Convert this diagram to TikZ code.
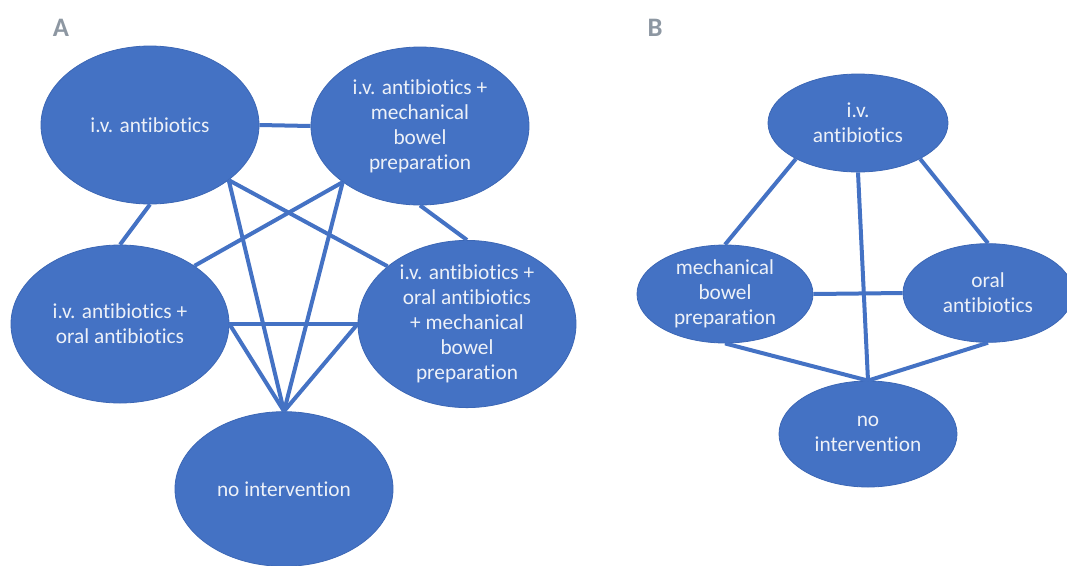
\documentclass[tikz,border=0pt]{standalone}
\usepackage{fontspec}
\setmainfont{Carlito}[Ligatures=NoCommon]
\usetikzlibrary{shapes.geometric}
\definecolor{nodeblue}{HTML}{4472C4}
\definecolor{rimblue}{HTML}{3C67B5}
\definecolor{txt}{HTML}{EDF1F8}
\definecolor{panelgray}{HTML}{8D97A2}
\begin{document}
\begin{tikzpicture}[x=0.75pt, y=-0.75pt,
  state/.style={ellipse, fill=nodeblue, draw=rimblue, line width=0.6pt, inner sep=0pt,
    text=txt, align=center, font=\fontsize{16}{18.75}\selectfont},
  big/.style={minimum width=163.5pt, minimum height=118.5pt},
  link/.style={draw=nodeblue, line width=3pt},
  panel/.style={font=\fontsize{20}{20}\selectfont\bfseries, text=panelgray, inner sep=0pt}]
\useasboundingbox (0,0) rectangle (1067,565);
% Panel labels
\node[panel] (labA) at (61,28) {A};
\node[panel] (labB) at (655,28) {B};
% Panel A nodes
\node[state, big] (a1) at (150,125) {i.v. antibiotics};
\node[state, big] (a2) at (420,126) {i.v. antibiotics +\\mechanical\\bowel\\preparation};
\node[state, big] (a3) at (120,324) {i.v. antibiotics +\\oral antibiotics};
\node[state, big] (a4) at (467,324) {i.v. antibiotics +\\oral antibiotics\\+ mechanical\\bowel\\preparation};
\node[state, minimum width=163.5pt, minimum height=116pt] (a5) at (284,489) {no intervention};
% Panel A links
\draw[link] (a1.east) -- (a2.west);
\draw[link] (a1.south) -- (a3.north);
\draw[link] (a2.south) -- (a4.north);
\draw[link] (a1.-35) -- (a4.144);
\draw[link] (a1.-35) -- (a5.north);
\draw[link] (a2.-144) -- (a3.38);
\draw[link] (a2.-144) -- (a5.north);
\draw[link] (a3.east) -- (a4.west);
\draw[link] (a3.east) -- (a5.north);
\draw[link] (a4.west) -- (a5.north);
% Panel B nodes
\node[state, minimum width=135pt, minimum height=73.5pt] (b1) at (858,123) {i.v.\\antibiotics};
\node[state, minimum width=132pt, minimum height=73.5pt] (b2) at (725,294) {mechanical\\bowel\\preparation};
\node[state, minimum width=127.5pt, minimum height=74pt] (b3) at (988,293) {oral\\antibiotics};
\node[state, minimum width=133.5pt, minimum height=79.5pt] (b4) at (868,434) {no\\intervention};
% Panel B links
\draw[link] (b1.210) -- (b2.north);
\draw[link] (b1.-30) -- (b3.north);
\draw[link] (b1.south) -- (b4.north);
\draw[link] (b2.east) -- (b3.west);
\draw[link] (b2.south) -- (b4.north);
\draw[link] (b3.south) -- (b4.north);
\end{tikzpicture}
\end{document}
